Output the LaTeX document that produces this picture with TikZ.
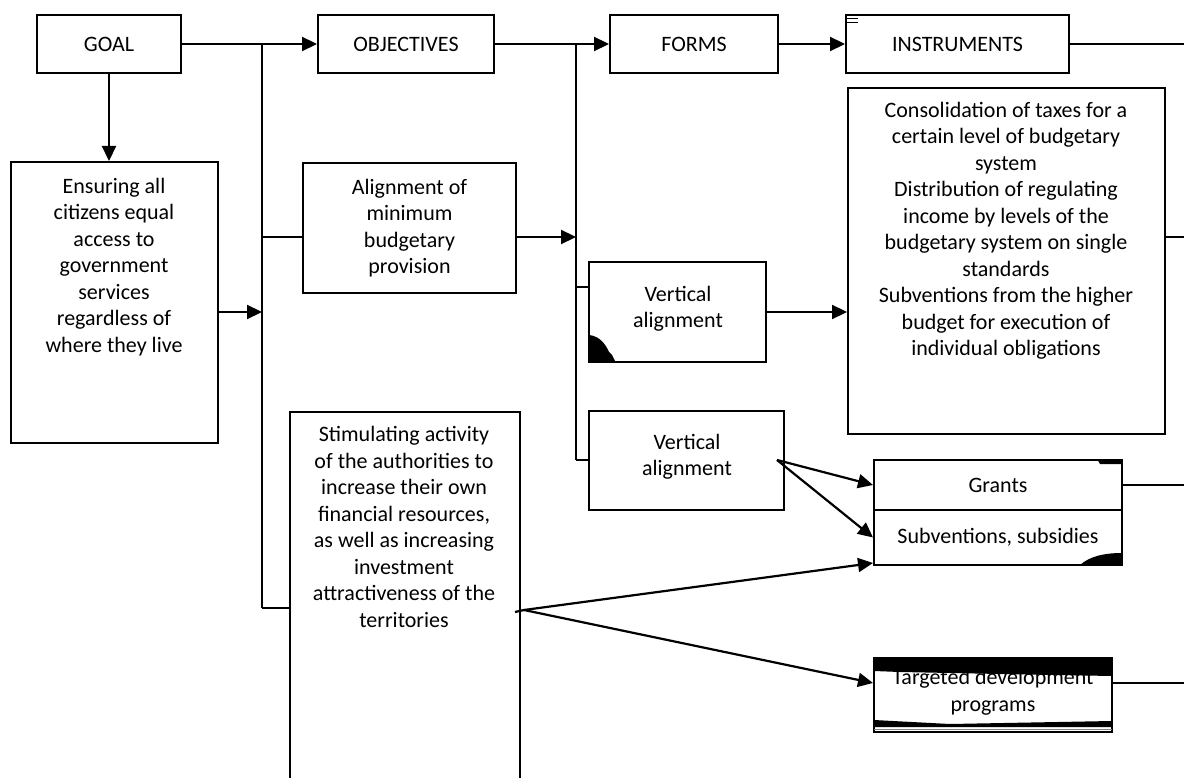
\documentclass[tikz,border=0pt]{standalone}
\usepackage{fontspec}
\setmainfont{Carlito}
\usetikzlibrary{arrows.meta}
\begin{document}
\begin{tikzpicture}[x=1pt,y=-1pt,
  box/.style={draw,line width=2pt,inner sep=0pt,rectangle,font=\fontsize{22}{26.5}\selectfont},
  txt/.style={align=center,inner sep=0pt,font=\fontsize{22}{26.5}\selectfont},
  con/.style={line width=2.2pt},
  arr/.style={line width=2.2pt,-{Triangle[length=15pt,width=14pt]}},
  blot/.style={fill=black,draw=none}]
\clip (0,0) rectangle (1184,778);
\fill[white] (0,0) rectangle (1184,778);
% top row
\node[box,minimum width=144pt,minimum height=58pt] (goal) at (109,44) {GOAL};
\node[box,minimum width=176pt,minimum height=58pt] (obj) at (406,44) {OBJECTIVES};
\node[box,minimum width=168pt,minimum height=58pt] (forms) at (694,44) {FORMS};
\node[box,minimum width=223pt,minimum height=58pt] (instr) at (957.5,44) {INSTRUMENTS};
% other boxes
\node[box,minimum width=207pt,minimum height=281pt] (ensure) at (114.5,302.5) {};
\node[box,minimum width=213pt,minimum height=130pt] (align) at (409.5,228) {};
\node[box,minimum width=230pt,minimum height=400pt,anchor=north west] (stim) at (289,411) {};
\node[box,minimum width=177pt,minimum height=99pt] (vert1) at (677.5,312) {};
\node[box,minimum width=195pt,minimum height=99pt] (vert2) at (686.5,460.5) {};
\node[box,minimum width=317pt,minimum height=346pt] (cons) at (1006.5,261) {};
\node[box,minimum width=248pt,minimum height=50pt] (grants) at (998,485) {Grants};
\node[box,minimum width=248pt,minimum height=55pt] (subv) at (998,537.5) {Subventions, subsidies};
\node[box,minimum width=238pt,minimum height=74pt] (target) at (993,695) {};
% texts
\node[txt] (tensure) at (114,267) {Ensuring all\\citizens equal\\access to\\government\\services\\regardless of\\where they live};
\node[txt] (talign) at (409.5,228) {Alignment of\\minimum\\budgetary\\provision};
\node[txt] (tstim) at (404,527) {Stimulating activity\\of the authorities to\\increase their own\\financial resources,\\as well as increasing\\investment\\attractiveness of the\\territories};
\node[txt] (tv1) at (678,309) {Vertical\\alignment};
\node[txt] (tv2) at (687,457) {Vertical\\alignment};
\node[txt] (tcons) at (1006,231) {Consolidation of taxes for a\\certain level of budgetary\\system\\Distribution of regulating\\income by levels of the\\budgetary system on single\\standards\\Subventions from the higher\\budget for execution of\\individual obligations};
\node[txt] (ttarget) at (993,692) {Targeted development\\programs};
% coordinates
\coordinate (j1t) at (262,44);
\coordinate (j1a) at (262,237);
\coordinate (j1e) at (262,312);
\coordinate (j1b) at (262,608);
\coordinate (j2t) at (576,44);
\coordinate (j2a) at (576,237);
\coordinate (j2c) at (576,287);
\coordinate (j2b) at (576,460);
\coordinate (e1) at (1184,44);
\coordinate (e2) at (1184,237);
\coordinate (e3) at (1184,485);
\coordinate (e4) at (1184,683);
\coordinate (v2o) at (777,460);
\coordinate (so) at (524,610);
% connectors
\draw[arr] (goal.east) -- (obj.west);
\draw[con] (j1t) -- (j1b);
\draw[con] (j1a) -- (j1a -| align.west);
\draw[con] (j1b) -- (j1b -| stim.west);
\draw[arr] (j1e -| ensure.east) -- (j1e);
\draw[arr] (goal.south) -- (goal.south |- ensure.north);
\draw[arr] (obj.east) -- (forms.west);
\draw[con] (j2t) -- (j2b);
\draw[arr] (j2a -| align.east) -- (j2a);
\draw[con] (j2c) -- (j2c -| vert1.west);
\draw[con] (j2b) -- (j2b -| vert2.west);
\draw[arr] (forms.east) -- (instr.west);
\draw[con] (instr.east) -- (e1);
\draw[arr] (vert1.east) -- (vert1.east -| cons.west);
\draw[con] (e2 -| cons.east) -- (e2);
\draw[arr] (v2o) -- (grants.west);
\draw[arr] (v2o) -- (subv.west);
\draw[con] ([xshift=-6pt]stim.east) -- (so);
\draw[arr] (so) -- ([yshift=3pt]subv.south west);
\draw[arr] (so) -- (e4 -| target.west);
\draw[con] (grants.east) -- (e3);
\draw[con] (e4 -| target.east) -- (e4);
% artifacts
\draw[line width=1pt] (847,18.5) -- (858,18.5) (847,22.5) -- (858,22.5);
\fill[blot] (589,335) .. controls (600,336) and (606,345) .. (609,352) -- (612,355) -- (615,361) -- (589,361) -- cycle;
\fill[blot] (1097,459) -- (1122,459) -- (1122,464) -- (1100,464) -- cycle;
\fill[blot] (1080,565) .. controls (1090,556) and (1105,553) .. (1122,553) -- (1122,565) -- cycle;
\fill[blot] (874,658) -- (1112,658) -- (1112,676) -- (1000,674) -- (900,672) -- (874,671) -- cycle;
\fill[blot] (874,720) -- (950,724) -- (1112,721) -- (1112,727) -- (874,727) -- cycle;
\draw[line width=0.8pt,gray] (874,729.5) -- (1112,729.5);
\end{tikzpicture}
\end{document}
